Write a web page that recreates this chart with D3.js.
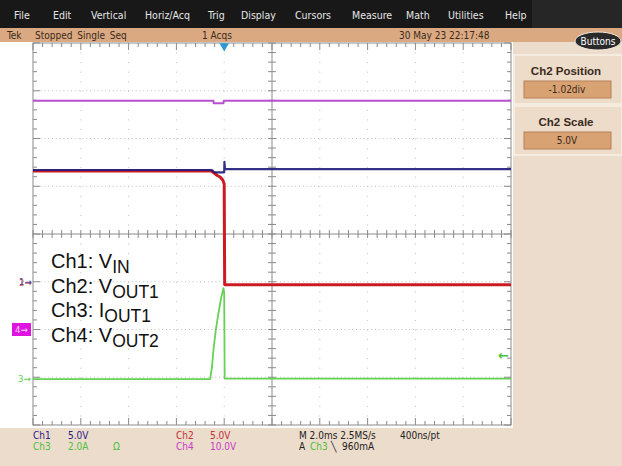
<!DOCTYPE html>
<html lang="en">
<head>
<meta charset="UTF-8">
<title>Scope capture</title>
<script src="https://cdnjs.cloudflare.com/ajax/libs/d3/7.8.5/d3.min.js"></script>
<style>
    * { margin: 0; padding: 0; box-sizing: border-box; }
    body { background: #ecdccb; width: 622px; height: 466px; overflow: hidden; }
    svg { display: block; }
    .ui { font-family: "Liberation Sans Narrow", "DejaVu Sans Condensed", "Liberation Sans", Arial, sans-serif; }
</style>
</head>
<body>
<svg id="scope" width="622" height="466"></svg>
<script>
    // menu + status texts
    const menuItems = ["File", "Edit", "Vertical", "Horiz/Acq", "Trig", "Display", "Cursors", "Measure", "Math", "Utilities", "Help"];
    const menuX = [14, 53, 91, 145, 208, 241, 295, 352, 406, 448, 505];

    // time of each point in ms relative to the trigger, value in V or A
    const ch1Time  = [-8, -0.52, -0.42, -0.03, 0.0, 0.01, 0.03, 12];
    const ch1Value = [11.7, 11.7, 11.46, 11.46, 11.46, 12.55, 11.8, 11.8];

    const ch2Time  = [-8, -0.54, -0.42, -0.29, -0.17, -0.06, 0.0, 0.02, 12];
    const ch2Value = [11.7, 11.7, 11.49, 11.23, 11.07, 10.75, 10.34, -0.22, -0.22];

    const ch3Time  = [-8, -0.59, -0.51, -0.45, -0.35, -0.24, -0.13, -0.03, 0.0, 0.02, 12];
    const ch3Value = [0.0, 0.0, 0.52, 1.22, 2.06, 2.77, 3.40, 3.81, 3.6, 0.02, 0.02];

    const ch4Time  = [-8, -0.45, -0.44, -0.03, -0.02, 12];
    const ch4Value = [47.9, 47.9, 47.4, 47.4, 47.9, 47.9];

    // volts (amps) per division and ground position in divisions
    const channels = [
        {id: 2, time: ch2Time, value: ch2Value, perDiv: 5,  offset: -1.02, color: "#cc1a22", width: 3},
        {id: 4, time: ch4Time, value: ch4Value, perDiv: 10, offset: -2,    color: "#b84fd0", width: 2},
        {id: 3, time: ch3Time, value: ch3Value, perDiv: 2,  offset: -3.04, color: "#66d156", width: 1.8},
        {id: 1, time: ch1Time, value: ch1Value, perDiv: 5,  offset: -1,    color: "#1e1a7a", width: 2.2}
    ];

    const triggerLevel = 0.96; // A on ch3

    const readoutRows = [
        [{t: "Ch1", x: 33, c: "#2a2088"}, {t: "5.0V", x: 68, c: "#2a2088"}, {t: "Ch2", x: 176, c: "#c0303a"}, {t: "5.0V", x: 210, c: "#c0303a"},
         {t: "M 2.0ms 2.5MS/s", x: 299, c: "#222"}, {t: "400ns/pt", x: 400, c: "#222"}],
        [{t: "Ch3", x: 33, c: "#4cc040"}, {t: "2.0A", x: 68, c: "#4cc040"}, {t: "\u03a9", x: 113, c: "#4cc040"}, {t: "Ch4", x: 176, c: "#c840c8"},
         {t: "10.0V", x: 210, c: "#c840c8"}, {t: "A", x: 299, c: "#222"}, {t: "Ch3", x: 310, c: "#4cc040"}, {t: "\u2572", x: 331, c: "#222"}, {t: "960mA", x: 342, c: "#222"}]
    ];

    const svg = d3.select("#scope");

    const plotLeft = 33, plotRight = 511, plotTop = 43, plotBottom = 425;
    const x = d3.scaleLinear().domain([-8, 12]).range([plotLeft, plotRight]);
    const yDiv = d3.scaleLinear().domain([-4, 4]).range([plotBottom, plotTop]);
    const xDiv = d3.scaleLinear().domain([0, 10]).range([plotLeft, plotRight]);

    // backgrounds
    svg.append("rect").attr("x", 0).attr("y", 0).attr("width", 622).attr("height", 466).attr("fill", "#ecdccb");
    svg.append("rect").attr("x", 0).attr("y", 0).attr("width", 622).attr("height", 28).attr("fill", "#181818");
    svg.append("rect").attr("x", 532).attr("y", 0).attr("width", 90).attr("height", 28).attr("fill", "#262626");
    svg.append("rect").attr("x", 0).attr("y", 28).attr("width", 622).attr("height", 14).attr("fill", "#dba981");
    svg.append("rect").attr("x", 0).attr("y", 42).attr("width", 513).attr("height", 386).attr("fill", "#ffffff");

    svg.append("g").attr("class", "ui").selectAll("text")
        .data(menuItems).enter().append("text")
        .attr("x", (d, i) => menuX[i]).attr("y", 19)
        .attr("font-size", 10.5).attr("fill", "#e6e6e6")
        .text(d => d);

    const status = svg.append("g").attr("class", "ui").attr("font-size", 10).attr("fill", "#3a2a1c");
    status.append("text").attr("x", 7).attr("y", 39).text("Tek");
    status.append("text").attr("x", 35).attr("y", 39).attr("word-spacing", 2).text("Stopped  Single Seq");
    status.append("text").attr("x", 202).attr("y", 39).text("1 Acqs");
    status.append("text").attr("x", 399).attr("y", 39).text("30 May 23 22:17:48");

    svg.append("ellipse").attr("cx", 598).attr("cy", 41).attr("rx", 23).attr("ry", 9)
        .attr("fill", "#2a2a2a").attr("stroke", "#f4e8dc").attr("stroke-width", 1);
    svg.append("text").attr("class", "ui").attr("x", 598).attr("y", 45).attr("text-anchor", "middle")
        .attr("font-size", 10).attr("fill", "#ffffff").text("Buttons");

    // right side panels
    const panels = [{label: "Ch2 Position", value: "-1.02div", y: 55}, {label: "Ch2 Scale", value: "5.0V", y: 106}];
    const panel = svg.append("g").selectAll("g").data(panels).enter().append("g");
    panel.append("rect").attr("x", 514).attr("y", d => d.y).attr("width", 108).attr("height", 49)
        .attr("fill", "#eddcca").attr("stroke", "#f8f0e6").attr("stroke-width", 1.5);
    panel.append("text").attr("x", 566).attr("y", d => d.y + 20).attr("text-anchor", "middle")
        .attr("font-family", "Liberation Sans, Arial, sans-serif").attr("font-weight", "bold")
        .attr("font-size", 11.5).attr("fill", "#3a2a1c").text(d => d.label);
    panel.append("rect").attr("x", 524).attr("y", d => d.y + 26).attr("width", 87).attr("height", 17)
        .attr("fill", "#d9a273").attr("stroke", "#b88058").attr("stroke-width", 1);
    panel.append("text").attr("class", "ui").attr("x", 567).attr("y", d => d.y + 38).attr("text-anchor", "middle")
        .attr("font-size", 10).attr("fill", "#3a2a1c").text(d => d.value);

    // graticule
    const grid = svg.append("g");
    grid.selectAll(".hg").data(d3.range(-3, 4).filter(d => d !== 0)).enter().append("line")
        .attr("x1", plotLeft).attr("x2", plotRight).attr("y1", d => yDiv(d)).attr("y2", d => yDiv(d))
        .attr("stroke", "#bdbdbd").attr("stroke-width", 1).attr("stroke-dasharray", "1,2.8");
    grid.selectAll(".vg").data(d3.range(1, 10).filter(d => d !== 5)).enter().append("line")
        .attr("y1", plotTop).attr("y2", plotBottom).attr("x1", d => xDiv(d)).attr("x2", d => xDiv(d))
        .attr("stroke", "#bdbdbd").attr("stroke-width", 1).attr("stroke-dasharray", "1,8.55");

    const minorX = d3.range(0, 51).map(i => i / 5);
    const minorY = d3.range(0, 41).map(i => -4 + i / 5);
    const tickStroke = "#8a8a8a";
    // central axes with minor ticks
    grid.append("line").attr("x1", plotLeft).attr("x2", plotRight).attr("y1", yDiv(0)).attr("y2", yDiv(0)).attr("stroke", tickStroke);
    grid.append("line").attr("y1", plotTop).attr("y2", plotBottom).attr("x1", xDiv(5)).attr("x2", xDiv(5)).attr("stroke", tickStroke);
    grid.selectAll(".cx").data(minorX).enter().append("line")
        .attr("x1", d => xDiv(d)).attr("x2", d => xDiv(d)).attr("y1", yDiv(0) - 4).attr("y2", yDiv(0) + 4).attr("stroke", tickStroke);
    grid.selectAll(".cy").data(minorY).enter().append("line")
        .attr("y1", d => yDiv(d)).attr("y2", d => yDiv(d)).attr("x1", xDiv(5) - 4).attr("x2", xDiv(5) + 4).attr("stroke", tickStroke);
    // border ticks
    const isMajor = d => Math.abs(d - Math.round(d)) < 1e-9;
    grid.selectAll(".tt").data(minorX).enter().append("line")
        .attr("x1", d => xDiv(d)).attr("x2", d => xDiv(d)).attr("y1", plotTop).attr("y2", d => plotTop + (isMajor(d) ? 7 : 4)).attr("stroke", tickStroke);
    grid.selectAll(".bt").data(minorX).enter().append("line")
        .attr("x1", d => xDiv(d)).attr("x2", d => xDiv(d)).attr("y1", plotBottom).attr("y2", d => plotBottom - (isMajor(d) ? 7 : 4)).attr("stroke", tickStroke);
    grid.selectAll(".lt").data(minorY).enter().append("line")
        .attr("y1", d => yDiv(d)).attr("y2", d => yDiv(d)).attr("x1", plotLeft).attr("x2", d => plotLeft + (isMajor(d) ? 7 : 4)).attr("stroke", tickStroke);
    grid.selectAll(".rt").data(minorY).enter().append("line")
        .attr("y1", d => yDiv(d)).attr("y2", d => yDiv(d)).attr("x1", plotRight).attr("x2", d => plotRight - (isMajor(d) ? 7 : 4)).attr("stroke", tickStroke);
    grid.append("rect").attr("x", plotLeft).attr("y", plotTop).attr("width", plotRight - plotLeft).attr("height", plotBottom - plotTop)
        .attr("fill", "none").attr("stroke", tickStroke).attr("stroke-width", 1);

    // traces
    const traces = svg.append("g");
    channels.forEach(ch => {
        const pts = ch.time.map((t, i) => [t, ch.value[i]]);
        const line = d3.line()
            .x(d => x(d[0]))
            .y(d => yDiv(d[1] / ch.perDiv + ch.offset));
        traces.append("path").datum(pts)
            .attr("d", line)
            .attr("fill", "none")
            .attr("stroke", ch.color)
            .attr("stroke-width", ch.width)
            .attr("stroke-linejoin", "round")
            .attr("opacity", ch.id === 1 ? 0.9 : 1);
    });

    // trigger position marker
    svg.append("path").attr("d", d3.symbol(d3.symbolTriangle, 40)())
        .attr("transform", `translate(${x(0)},${plotTop + 3}) rotate(180)`).attr("fill", "#2b9ad6");

    // trigger level arrow (ch3)
    const trigY = yDiv(triggerLevel / 2 + -3.04);
    svg.append("text").attr("x", plotRight - 2).attr("y", trigY + 4).attr("text-anchor", "end")
        .attr("font-size", 13).attr("font-weight", "bold").attr("font-family", "DejaVu Sans, sans-serif").attr("fill", "#4cc040").text("\u2190");

    // ground markers
    const gnd = svg.append("g").attr("class", "ui").attr("font-size", 9.5);
    [{id: 2, c: "#c0303a"}, {id: 1, c: "#2a2088"}].forEach(m => {
        const ch = channels.find(c => c.id === m.id);
        gnd.append("text").attr("x", 19).attr("y", yDiv(ch.offset) + 3).attr("fill", m.c).attr("opacity", 0.8).text(m.id + "\u2192");
    });
    const ch4 = channels.find(c => c.id === 4);
    gnd.append("rect").attr("x", 12).attr("y", yDiv(ch4.offset) - 6.5).attr("width", 19).attr("height", 13).attr("fill", "#e014e0");
    gnd.append("text").attr("x", 15).attr("y", yDiv(ch4.offset) + 3).attr("fill", "#fbd0fb").text("4\u2192");
    const ch3 = channels.find(c => c.id === 3);
    gnd.append("text").attr("x", 18).attr("y", yDiv(ch3.offset) + 3).attr("fill", "#5fcf4f").text("3\u2192");

    // channel legend
    const legend = [
        {main: "Ch1: V", sub: "IN"},
        {main: "Ch2: V", sub: "OUT1"},
        {main: "Ch3: I", sub: "OUT1"},
        {main: "Ch4: V", sub: "OUT2"}
    ];
    const lg = svg.append("g").attr("font-family", "Liberation Sans, Arial, sans-serif").attr("fill", "#111");
    legend.forEach((d, i) => {
        const t = lg.append("text").attr("x", 51).attr("y", 268 + i * 24.5).attr("font-size", 20);
        t.append("tspan").text(d.main);
        t.append("tspan").attr("font-size", 17.5).attr("dy", 5).text(d.sub);
    });

    // bottom readouts
    const ro = svg.append("g").attr("class", "ui").attr("font-size", 10);
    readoutRows.forEach((row, r) => {
        row.forEach(item => {
            ro.append("text").attr("x", item.x).attr("y", 439 + r * 11).attr("fill", item.c).text(item.t);
        });
    });
</script>
</body>
</html>
